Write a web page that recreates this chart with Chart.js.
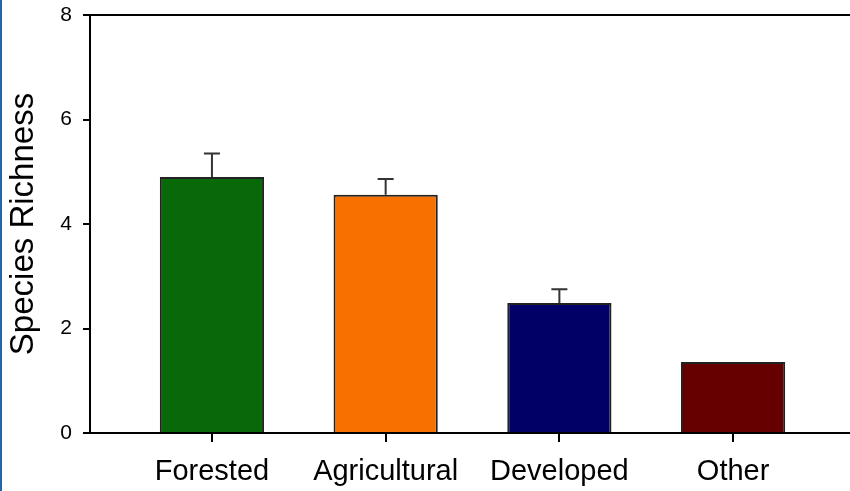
<!DOCTYPE html>
<html>
<head>
<meta charset="utf-8">
<script src="https://cdn.jsdelivr.net/npm/chart.js@4/dist/chart.umd.min.js"></script>
<style>
html, body { margin: 0; padding: 0; background: #fff; }
#wrap { position: relative; width: 850px; height: 491px; }
#edge { position: absolute; left: 0; top: 0; width: 2px; height: 491px; background: #2466a8; }
</style>
</head>
<body>
<div id="wrap">
<canvas id="grafico" width="850" height="491"></canvas>
<div id="edge"></div>
</div>
<script>
// values
const categorias = ["Forested", "Agricultural", "Developed", "Other"];
const medias = [4.90, 4.56, 2.49, 1.36];
const erros = [0.45, 0.30, 0.26, 0];
const cores = ["#076907", "#f87000", "#000066", "#660000"];
const yTicks = [0, 2, 4, 6, 8];

const fonte = "'Liberation Sans', Arial, sans-serif";

const pontos = medias.map((v, i) => ({ x: i, y: v }));

// top frame line
const moldura = {
  id: "moldura",
  afterDraw(chart) {
    const a = chart.chartArea;
    const ctx = chart.ctx;
    ctx.save();
    ctx.strokeStyle = "#000";
    ctx.lineWidth = 2;
    ctx.beginPath();
    ctx.moveTo(a.left - 1, a.top);
    ctx.lineTo(chart.width, a.top);
    ctx.stroke();
    ctx.restore();
  }
};

// upper error bars
const barrasErro = {
  id: "barrasErro",
  afterDatasetsDraw(chart) {
    const ctx = chart.ctx;
    const y = chart.scales.y;
    const meta = chart.getDatasetMeta(0);
    ctx.save();
    ctx.strokeStyle = "#333";
    ctx.lineWidth = 2;
    meta.data.forEach((bar, i) => {
      if (!erros[i]) return;
      const x = bar.x;
      const y0 = y.getPixelForValue(medias[i]);
      const y1 = y.getPixelForValue(medias[i] + erros[i]);
      ctx.beginPath();
      ctx.moveTo(x, y0);
      ctx.lineTo(x, y1);
      ctx.moveTo(x - 8, y1);
      ctx.lineTo(x + 8, y1);
      ctx.stroke();
    });
    ctx.restore();
  }
};

new Chart(document.getElementById("grafico"), {
  type: "bar",
  data: {
    datasets: [{
      data: pontos,
      backgroundColor: cores,
      borderColor: "#222",
      borderWidth: 2,
      barPercentage: 0.6,
      categoryPercentage: 1
    }]
  },
  plugins: [moldura, barrasErro],
  options: {
    responsive: false,
    animation: false,
    layout: { padding: { top: 15, right: 0, left: 0, bottom: 0 } },
    plugins: { legend: { display: false }, tooltip: { enabled: false } },
    scales: {
      x: {
        type: "linear",
        offset: false,
        min: -0.702,
        max: 3.673,
        afterBuildTicks: s => { s.ticks = categorias.map((c, i) => ({ value: i })); },
        afterFit: s => { s.height = 58; },
        ticks: {
          callback: v => categorias[v],
          color: "#000",
          font: { family: fonte, size: 29 },
          padding: 13,
          maxRotation: 0,
          autoSkip: false
        },
        grid: { offset: false, drawOnChartArea: false, color: "#000", lineWidth: 2, tickLength: 9 },
        border: { color: "#000", width: 2 }
      },
      y: {
        min: 0,
        max: 8,
        afterBuildTicks: s => { s.ticks = yTicks.map(v => ({ value: v })); },
        afterFit: s => { s.width = 90; s.paddingTop = 0; s.paddingBottom = 0; },
        ticks: {
          color: "#000",
          font: { family: fonte, size: 21 },
          padding: 11
        },
        grid: { drawOnChartArea: false, color: "#000", lineWidth: 2, tickLength: 7 },
        border: { color: "#000", width: 2 },
        title: {
          display: true,
          text: "Species Richness",
          color: "#000",
          font: { family: fonte, size: 33 },
          padding: { top: 4, bottom: 0 }
        }
      }
    }
  }
});
</script>
</body>
</html>
